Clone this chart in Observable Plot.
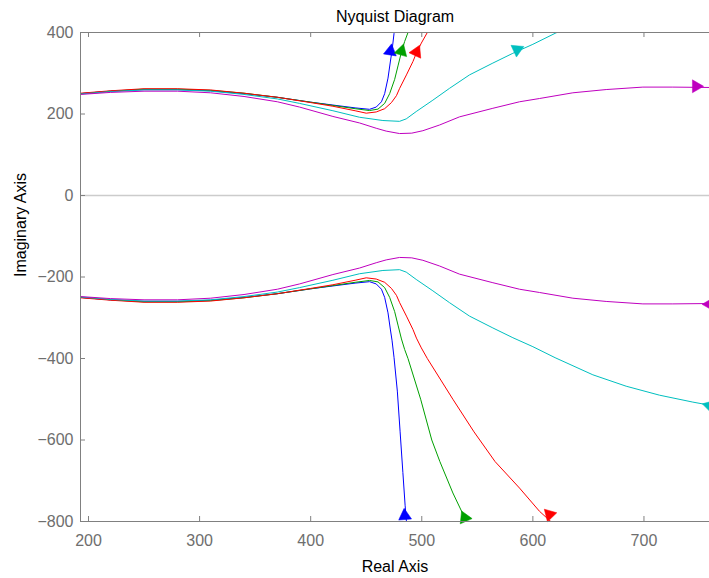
<!DOCTYPE html>
<html>
<head>
<meta charset="utf-8">
<script src="https://cdn.jsdelivr.net/npm/d3@7"></script>
<script src="https://cdn.jsdelivr.net/npm/@observablehq/plot@0.6"></script>
<style>
  html, body { margin: 0; padding: 0; background: #ffffff; }
  #chart { width: 709px; height: 578px; }
</style>
</head>
<body>
<div id="chart"></div>
<script>
// ---- Data ----
// Each series: [real, |imag|] points; the Nyquist plot draws each curve and its complex conjugate.
const seriesNames = ["blue", "green", "red", "cyan", "magenta"];
const seriesColors = ["#0000ff", "#00a000", "#ff0000", "#00bfbf", "#bf00bf"];

const blueCurve = [[192.8,250],[220,256],[250,260],[280,260],[310,257],[340,250],[370,241],[400,229],[420,222],[440,215],[453,211.5],[459,217],[463.7,230],[466.6,250],[469.6,288],[471.8,330],[473.2,355],[475,397],[478,480],[480.5,580],[483,680],[485,760],[486.5,810]];
const greenCurve = [[192.8,250],[220,256],[250,261],[280,261],[310,258],[340,251],[370,241],[400,229],[420,221],[440,213],[453,208.5],[460.6,212],[466.6,226],[471.1,250],[475.6,285],[478.6,318],[481.7,352],[484.6,378],[487.6,400],[499,500],[509,600],[516.3,653],[528,730],[542,810]];
const redCurve = [[192.8,251],[220,257],[250,262],[280,262],[310,259],[340,251],[370,241],[400,228],[420,219],[440,208],[450,202],[459,205],[466.6,213],[472.7,228],[477.2,245],[480.1,263],[486.2,296],[492.1,329],[495.2,350],[499.6,374],[505,400],[528,500],[547,580],[566,653],[588,718],[606,775],[621,812]];
const cyanCurve = [[192.8,249],[220,255],[250,259],[280,259],[310,256],[340,248],[370,237],[390,226],[420,208],[444,192],[465,184],[480,182],[486,188],[495,206],[510,234],[525,263],[543,296],[564,325],[582,349],[600,371],[620,398],[654,440],[684,468],[714,490],[744,507],[762,516]];
const magentaCurve = [[192.8,248],[220,253],[250,256],[280,256],[310,252],[340,243],[370,230],[390,217],[420,194],[444,178],[459,165],[468,158],[480,152],[491,153],[501,159],[516,173],[534,193],[564,214],[588,230],[606,238],[636,252],[666,260],[699,266],[726,266],[762,265]];
const curves = [blueCurve, greenCurve, redCurve, cyanCurve, magentaCurve];

// Direction arrows: [real, imag, heading in degrees]
const upperArrows = [[471.8,354,9],[481.7,354,16],[495.2,352,25],[585.8,358,185],[747,268,90]];
const lowerArrows = [[484.7,-786,-5],[538.6,-791,-24],[615,-783,-44],[759,-516,-75],[759,-267,-90]];

// Axes
const xDomain = [192.8, 759];
const yDomain = [-800, 400];
const xTicks = [200, 300, 400, 500, 600, 700];
const yTicks = [-800, -600, -400, -200, 0, 200, 400];
const titleText = "Nyquist Diagram";
const xLabel = "Real Axis";
const yLabel = "Imaginary Axis";

// ---- Build the marks ----
const axisGray = "#808080";
const labelGray = "#6e6e6e";
const marks = [];

marks.push(Plot.ruleY([0], {stroke: "#cccccc", strokeWidth: 1.5}));

curves.forEach((c, i) => {
  const color = seriesColors[i];
  marks.push(Plot.line(c, {x: d => d[0], y: d => d[1], stroke: color, strokeWidth: 1, clip: true}));
  marks.push(Plot.line(c, {x: d => d[0], y: d => -d[1], stroke: color, strokeWidth: 1, clip: true}));
  const arrows = [upperArrows[i], lowerArrows[i]];
  marks.push(Plot.dot(arrows, {x: d => d[0], y: d => d[1], rotate: d => d[2], symbol: "triangle", r: 4.8, fill: color, stroke: color, strokeWidth: 0.5}));
});

// axis frame lines (left, top, bottom)
marks.push(Plot.ruleY(yDomain, {stroke: axisGray, strokeWidth: 1}));
marks.push(Plot.ruleX([xDomain[0]], {stroke: axisGray, strokeWidth: 1}));

// inward ticks
const frameH = 578 - 32 - 57;
const frameW = 709 - 80;
marks.push(Plot.tickX(xTicks, {x: d => d, insetTop: frameH - 5, stroke: axisGray}));
marks.push(Plot.tickX(xTicks, {x: d => d, insetBottom: frameH - 5, stroke: axisGray}));
marks.push(Plot.tickY(yTicks, {y: d => d, insetRight: frameW - 5, stroke: axisGray}));

// tick labels
marks.push(Plot.axisX({anchor: "bottom", ticks: xTicks, tickSize: 0, tickPadding: 13, label: null, fill: labelGray, fontSize: 16}));
marks.push(Plot.axisY({anchor: "left", ticks: yTicks, tickSize: 0, tickPadding: 7, label: null, fill: labelGray, fontSize: 16}));

// title and axis labels
marks.push(Plot.text([titleText], {frameAnchor: "top", lineAnchor: "middle", dy: -16, text: d => d, fill: "#000", fontSize: 16}));
marks.push(Plot.text([xLabel], {frameAnchor: "bottom", lineAnchor: "middle", dy: 45, text: d => d, fill: "#000", fontSize: 16}));
marks.push(Plot.text([yLabel], {frameAnchor: "left", lineAnchor: "middle", dx: -60, rotate: -90, text: d => d, fill: "#000", fontSize: 16}));

const chart = Plot.plot({
  width: 709,
  height: 578,
  marginLeft: 80,
  marginRight: 0,
  marginTop: 32,
  marginBottom: 57,
  style: {fontFamily: "'Liberation Sans', Arial, Helvetica, sans-serif", fontSize: "16px", background: "#ffffff", overflow: "hidden"},
  x: {domain: xDomain},
  y: {domain: yDomain},
  marks
});
document.getElementById("chart").appendChild(chart);
</script>
</body>
</html>
